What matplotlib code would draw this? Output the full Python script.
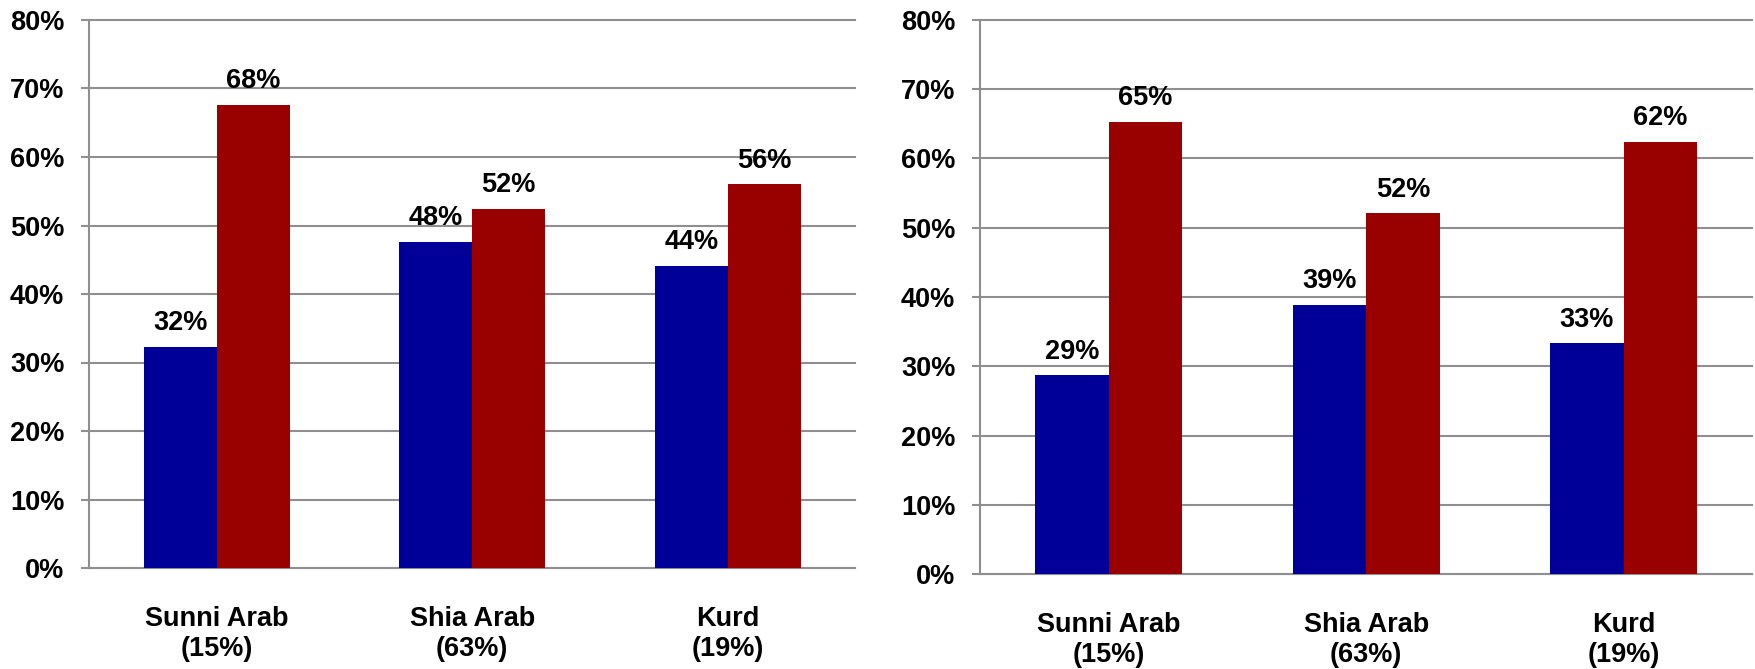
import numpy as np
import matplotlib.pyplot as plt
from matplotlib.ticker import FuncFormatter

categories = ['Sunni Arab\n(15%)', 'Shia Arab\n(63%)', 'Kurd\n(19%)']
left_blue = [32.3, 47.6, 44.1]
left_red = [67.6, 52.4, 56.0]
right_blue = [28.7, 38.9, 33.3]
right_red = [65.3, 52.1, 62.4]
yticks = [0, 10, 20, 30, 40, 50, 60, 70, 80]

BLUE = '#000099'
RED = '#990000'
GRID = '#8f8f8f'
FS = 19.5

plt.rcParams['font.family'] = ['Liberation Sans', 'DejaVu Sans']
plt.rcParams['font.weight'] = 'bold'

fig = plt.figure(figsize=(17.56, 6.69), dpi=100)
W, H = 1756, 669
ax1 = fig.add_axes([89 / W, (H - 568) / H, (855.5 - 89) / W, 548 / H])
ax2 = fig.add_axes([980 / W, (H - 574) / H, (1752.5 - 980) / W, 554 / H])


def draw(ax, blue, red):
    x = np.arange(len(categories))
    w = 0.286
    b1 = ax.bar(x - w / 2, blue, w, color=BLUE, zorder=3)
    b2 = ax.bar(x + w / 2, red, w, color=RED, zorder=3)
    for bars in (b1, b2):
        for b in bars:
            h = b.get_height()
            ax.annotate('{:.0f}%'.format(h), (b.get_x() + b.get_width() / 2, h),
                        xytext=(0, 12), textcoords='offset points',
                        ha='center', va='baseline', fontsize=FS, fontweight='bold')
    ax.set_xlim(-0.5, 2.5)
    ax.set_ylim(0, 80)
    ax.set_yticks(yticks)
    ax.yaxis.set_major_formatter(FuncFormatter(lambda v, p: '{:.0f}%'.format(v)))
    ax.set_xticks(x)
    ax.set_xticklabels(categories, fontsize=FS, fontweight='bold', linespacing=1.2)
    ax.tick_params(axis='x', length=0, pad=27)
    ax.tick_params(axis='y', length=5.8, width=1.5, color=GRID, pad=12, labelsize=FS)
    ax.yaxis.grid(True, color=GRID, linewidth=1.5, zorder=0)
    for line in ax.get_ygridlines():
        line.set_clip_on(False)
    ax.set_axisbelow(True)
    for s in ('top', 'right'):
        ax.spines[s].set_visible(False)
    for s in ('left', 'bottom'):
        ax.spines[s].set_color(GRID)
        ax.spines[s].set_linewidth(1.5)


draw(ax1, left_blue, left_red)
draw(ax2, right_blue, right_red)

plt.savefig('out.png', dpi=100)
plt.close()
